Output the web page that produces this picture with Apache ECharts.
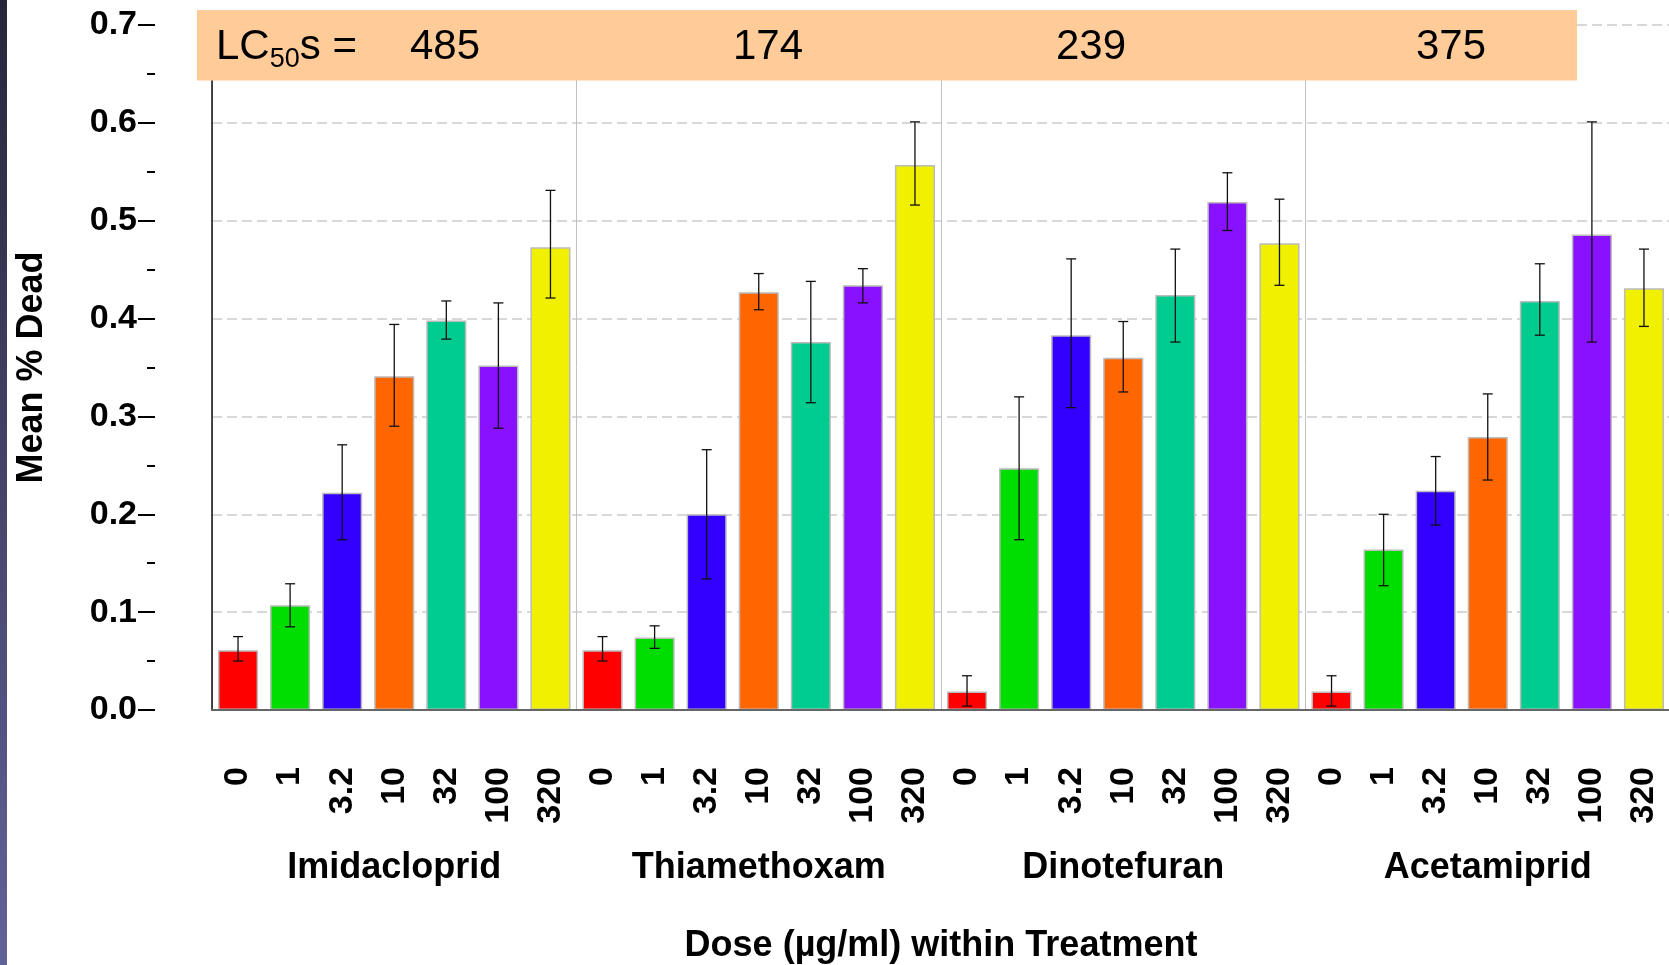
<!DOCTYPE html>
<html><head><meta charset="utf-8">
<script src="https://cdn.jsdelivr.net/npm/echarts@6/dist/echarts.min.js"></script>
<style>html,body{margin:0;padding:0;background:#fff}#c{width:1669px;height:965px}</style>
</head><body><div id="c"></div>
<script>
// ---- data ----
const treatments = ['Imidacloprid', 'Thiamethoxam', 'Dinotefuran', 'Acetamiprid'];
const doses = ['0', '1', '3.2', '10', '32', '100', '320'];
const lc50Values = ['485', '174', '239', '375'];
const yTicks = [0, 0.1, 0.2, 0.3, 0.4, 0.5, 0.6, 0.7];

const meanImidacloprid = [0.061, 0.107, 0.222, 0.341, 0.398, 0.352, 0.473];
const lowImidacloprid  = [0.050, 0.085, 0.174, 0.290, 0.379, 0.288, 0.421];
const highImidacloprid = [0.075, 0.129, 0.271, 0.394, 0.418, 0.416, 0.531];

const meanThiamethoxam = [0.061, 0.074, 0.200, 0.427, 0.376, 0.434, 0.557];
const lowThiamethoxam  = [0.050, 0.063, 0.134, 0.409, 0.314, 0.416, 0.516];
const highThiamethoxam = [0.075, 0.086, 0.266, 0.446, 0.438, 0.451, 0.601];

const meanDinotefuran = [0.019, 0.247, 0.383, 0.360, 0.424, 0.519, 0.477];
const lowDinotefuran  = [0.004, 0.174, 0.309, 0.325, 0.376, 0.490, 0.434];
const highDinotefuran = [0.035, 0.320, 0.461, 0.397, 0.471, 0.549, 0.522];

const meanAcetamiprid = [0.019, 0.164, 0.224, 0.279, 0.418, 0.486, 0.431];
const lowAcetamiprid  = [0.004, 0.127, 0.189, 0.235, 0.383, 0.376, 0.392];
const highAcetamiprid = [0.035, 0.200, 0.259, 0.323, 0.456, 0.601, 0.471];

// ---- styles / layout ----
const doseColors = ['#ff0000', '#00dd00', '#3300ff', '#ff6600', '#00cc8f', '#8811ff', '#f0f000'];
const FONT = "'Liberation Sans', Arial, Helvetica, sans-serif";
const lcTextX = [445, 768, 1091, 1451];

const means = [meanImidacloprid, meanThiamethoxam, meanDinotefuran, meanAcetamiprid];
const lows = [lowImidacloprid, lowThiamethoxam, lowDinotefuran, lowAcetamiprid];
const highs = [highImidacloprid, highThiamethoxam, highDinotefuran, highAcetamiprid];

const categories = [];
const barData = [];
const errData = [];
treatments.forEach((t, g) => {
  doses.forEach((d, i) => {
    const idx = categories.length;
    categories.push(t + '|' + d);
    barData.push({ value: means[g][i], itemStyle: { color: doseColors[i] } });
    errData.push([idx, lows[g][i], highs[g][i]]);
  });
});

const chart = echarts.init(document.getElementById('c'), null, { renderer: 'canvas' });

const graphics = [
  {
    type: 'rect', left: 0, top: 0, z: 100,
    shape: { width: 7, height: 965 },
    style: { fill: new echarts.graphic.LinearGradient(0, 0, 0, 1, [
      { offset: 0, color: '#26263a' }, { offset: 1, color: '#62629a' }]) }
  },
  {
    type: 'rect', z: 100,
    shape: { x: 197, y: 10, width: 1380, height: 70.5 },
    style: { fill: '#ffcb98' }
  },
  {
    type: 'text', z: 101,
    style: {
      x: 216, y: 47, text: '{a|LC}{b|50}{a|s =}', verticalAlign: 'middle', align: 'left',
      fill: '#000', font: '42px ' + FONT,
      rich: {
        a: { fontSize: 42, lineHeight: 52, fontFamily: FONT, fill: '#000', verticalAlign: 'middle' },
        b: { fontSize: 27, lineHeight: 28, fontFamily: FONT, fill: '#000', verticalAlign: 'bottom' }
      }
    }
  }
];
lc50Values.forEach((v, i) => {
  graphics.push({
    type: 'text', z: 101,
    style: { x: lcTextX[i], y: 47, text: v, align: 'center', verticalAlign: 'middle',
      fill: '#000', font: '42px ' + FONT }
  });
});

chart.setOption({
  animation: false,
  backgroundColor: '#ffffff',
  grid: { left: 212, right: -1, top: 25, bottom: 255, containLabel: false, outerBoundsMode: 'none' },
  xAxis: [
    {
      type: 'category', data: categories, position: 'bottom', z: 3,
      axisLine: { show: true, onZero: false, lineStyle: { color: '#222', width: 1.5 } },
      axisTick: { show: false },
      splitLine: { show: false },
      axisLabel: {
        interval: 0, rotate: 90, margin: 57, fontSize: 34, fontWeight: 'bold',
        color: '#000', fontFamily: FONT,
        formatter: v => v.split('|')[1]
      }
    },
    {
      type: 'category', data: treatments, position: 'bottom',
      axisLine: { show: false }, axisTick: { show: false },
      splitLine: { show: true, interval: 0, lineStyle: { color: '#c0c0c0', width: 1 } },
      axisLabel: { interval: 0, margin: 140, fontSize: 36, fontWeight: 'bold', color: '#000', fontFamily: FONT },
      name: 'Dose (µg/ml) within Treatment', nameLocation: 'middle', nameGap: 218,
      nameTextStyle: { fontSize: 36, fontWeight: 'bold', color: '#000', fontFamily: FONT }
    },
    {
      type: 'category', data: treatments, position: 'top', z: 3,
      axisLine: { show: true, lineStyle: { color: '#666', width: 2 } },
      axisTick: { show: false }, axisLabel: { show: false }, splitLine: { show: false }
    }
  ],
  yAxis: [
    {
      type: 'value', min: yTicks[0], max: yTicks[yTicks.length - 1], interval: 0.1,
      position: 'left', offset: 57,
      axisLine: { show: false },
      axisTick: { show: true, length: 17, lineStyle: { color: '#000', width: 2 } },
      minorTick: { show: true, splitNumber: 2, length: 8, lineStyle: { color: '#000', width: 2 } },
      axisLabel: { margin: 18, fontSize: 34, fontWeight: 'bold', color: '#000', fontFamily: FONT,
        formatter: v => v.toFixed(1) },
      splitLine: { show: true, lineStyle: { color: '#cccccc', type: [10, 5], width: 1.5 } },
      name: 'Mean % Dead', nameLocation: 'middle', nameGap: 105,
      nameTextStyle: { fontSize: 36, fontWeight: 'bold', color: '#000', fontFamily: FONT }
    },
    {
      type: 'value', min: yTicks[0], max: yTicks[yTicks.length - 1], interval: 0.1,
      position: 'left', offset: 0, z: 3,
      axisLine: { show: true, lineStyle: { color: '#111', width: 1.5 } },
      axisTick: { show: false }, axisLabel: { show: false }, splitLine: { show: false }
    }
  ],
  series: [
    {
      type: 'bar', data: barData, barCategoryGap: '23%',
      itemStyle: { borderColor: '#bbbbbb', borderWidth: 1.5 },
      z: 2
    },
    {
      type: 'custom', data: errData, z: 3,
      encode: { x: 0, y: [1, 2] },
      renderItem: function (params, api) {
        const x = api.value(0);
        const pLo = api.coord([x, api.value(1)]);
        const pHi = api.coord([x, api.value(2)]);
        const w = 5;
        const st = { stroke: '#111', lineWidth: 1.3 };
        return {
          type: 'group',
          children: [
            { type: 'line', shape: { x1: pHi[0], y1: pHi[1], x2: pLo[0], y2: pLo[1] }, style: st },
            { type: 'line', shape: { x1: pHi[0] - w, y1: pHi[1], x2: pHi[0] + w, y2: pHi[1] }, style: st },
            { type: 'line', shape: { x1: pLo[0] - w, y1: pLo[1], x2: pLo[0] + w, y2: pLo[1] }, style: st }
          ]
        };
      }
    }
  ],
  graphic: graphics
});
</script>
</body></html>
